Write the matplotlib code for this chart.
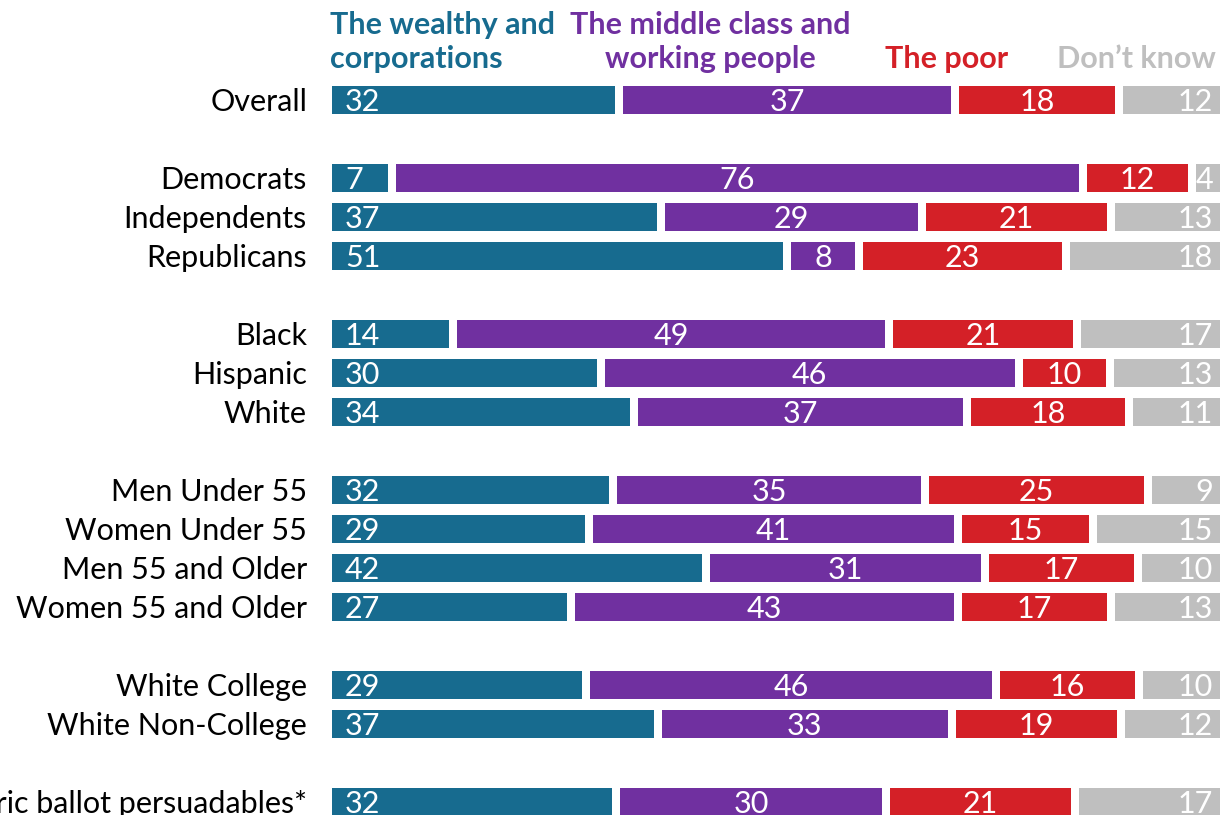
import matplotlib
matplotlib.use("Agg")
import matplotlib.pyplot as plt

plt.rcParams['font.family'] = ['Lato', 'DejaVu Sans']

groups = ["Overall",
          "Democrats", "Independents", "Republicans",
          "Black", "Hispanic", "White",
          "Men Under 55", "Women Under 55", "Men 55 and Older", "Women 55 and Older",
          "White College", "White Non-College",
          "Generic ballot persuadables*"]
# row slot for each group (blank slots separate the blocks)
rows = [0, 2, 3, 4, 6, 7, 8, 10, 11, 12, 13, 15, 16, 18]

wealthy = [32, 7, 37, 51, 14, 30, 34, 32, 29, 42, 27, 29, 37, 32]
middle = [37, 76, 29, 8, 49, 46, 37, 35, 41, 31, 43, 46, 33, 30]
poor = [18, 12, 21, 23, 21, 10, 18, 25, 15, 17, 17, 16, 19, 21]
dont_know = [12, 4, 13, 18, 17, 13, 11, 9, 15, 10, 13, 10, 12, 17]

series_names = ["The wealthy and\ncorporations", "The middle class and\nworking people",
                "The poor", "Don\u2019t know"]
colors = ["#176B8F", "#7030A0", "#D42027", "#BFBFBF"]

W, H = 1220, 815
fig = plt.figure(figsize=(W / 100, H / 100), dpi=100)

# bar area: 0..100 % spans pixel 332..1232
x0_px, span_px = 332, 900
px_per_unit = span_px / 100
row0_px, row_px = 100, 39
ax = fig.add_axes([x0_px / W, 0, span_px / W, 1])
ax.set_xlim(0, 100)
ax.set_ylim((H - row0_px) / row_px, -row0_px / row_px)
ax.axis("off")

gap = 8 / px_per_unit
bar_h = 28 / row_px
num_fs = 22
series = [wealthy, middle, poor, dont_know]
num_base = (14 - 3) / row_px
lab_base = (14 - 3) / row_px

for i, r in enumerate(rows):
    total = sum(vals[i] for vals in series)
    left = 0
    for s, vals in enumerate(series):
        v = vals[i]
        w = v / total * 100
        ax.barh(r, w - gap, left=left, height=bar_h, color=colors[s], linewidth=0)
        if s == 0:
            x, ha = left + 13 / px_per_unit, "left"
        elif s == 3:
            x, ha = 100 - gap - 11 / px_per_unit, "right"
        else:
            x, ha = left + (w - gap) / 2, "center"
        ax.text(x, r + num_base, str(v), ha=ha, va="baseline",
                color="white", fontsize=num_fs)
        left += w
    ax.text(-25 / px_per_unit, r + lab_base, groups[i], ha="right", va="baseline",
            color="black", fontsize=22, clip_on=False)

# column headers
def px2data(xp):
    return (xp - x0_px) / px_per_unit

def py2data(yp):
    return (yp - row0_px) / row_px

header_specs = [
    (series_names[0], 330, "left", 34),
    (series_names[1], 710, "center", 34),
    (series_names[2], 947, "center", 68),
    (series_names[3], 1136, "center", 68),
]
for k, (txt, xp, ha, base) in enumerate(header_specs):
    lines = txt.split("\n")
    for j, line in enumerate(lines):
        ax.text(px2data(xp), py2data(base + 34 * j), line, ha=ha, va="baseline",
                color=colors[k], fontsize=22, fontweight="bold", clip_on=False)

fig.savefig("out.png", dpi=100)
